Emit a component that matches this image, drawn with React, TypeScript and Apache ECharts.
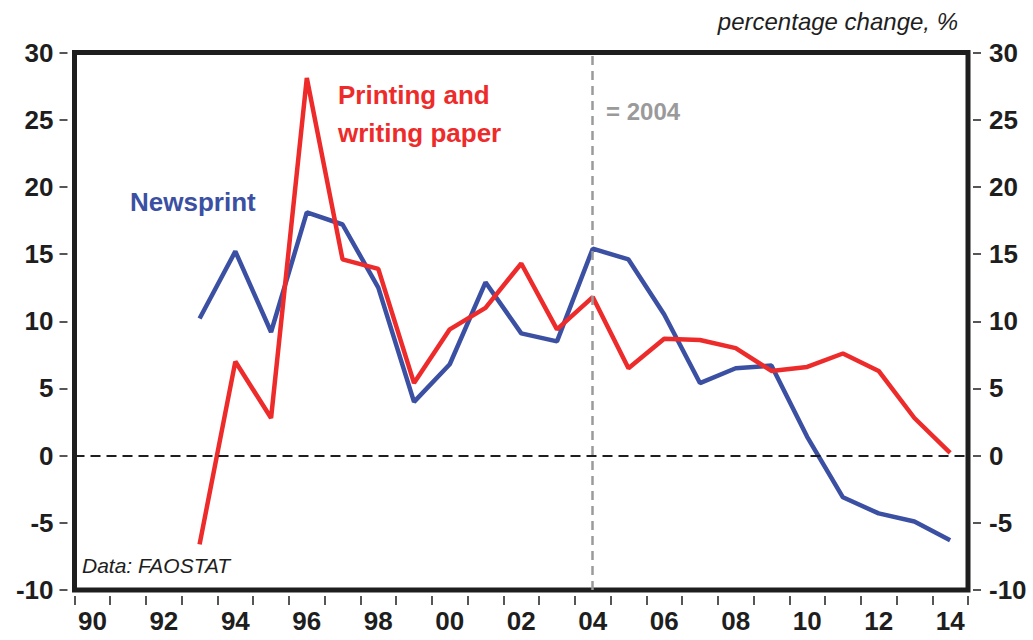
import React, { useEffect, useRef } from "react";
import * as echarts from "echarts";

const years = ["90","91","92","93","94","95","96","97","98","99","00","01","02","03","04","05","06","07","08","09","10","11","12","13","14"];
const newsprint = [null,null,null,10.2,15.2,9.2,18.1,17.2,12.5,4.0,6.8,12.9,9.1,8.5,15.4,14.6,10.5,5.4,6.5,6.7,1.4,-3.1,-4.3,-4.9,-6.3];
const printing = [null,null,null,-6.6,7.0,2.8,28.1,14.6,13.9,5.4,9.4,11.0,14.3,9.4,11.8,6.5,8.7,8.6,8.0,6.3,6.6,7.6,6.3,2.8,0.2];
const markYear = "04";

const FONT = "'Liberation Sans', Arial, Helvetica, sans-serif";
const BLUE = "#3b50a3";
const RED = "#ee2b2b";
const DARK = "#1e1e1e";

export default function App() {
  const ref = useRef<HTMLDivElement>(null);
  useEffect(() => {
    const chart = echarts.init(ref.current!, null, { renderer: "svg" });
    const yAxisBase = {
      type: "value" as const,
      min: -10,
      max: 30,
      interval: 5,
      axisLine: { show: false, onZero: false },
      axisTick: { show: true, length: 8, lineStyle: { color: DARK, width: 1.5 } },
      axisLabel: {
        color: DARK,
        fontSize: 26,
        fontWeight: "bold" as const,
        fontFamily: FONT,
        padding: [0, 0, 8, 0],
      },
      splitLine: { show: false },
    };
    chart.setOption({
      animation: false,
      backgroundColor: "#ffffff",
      grid: {
        left: 74.5,
        right: 65,
        top: 52.5,
        bottom: 50,
        show: true,
        borderColor: DARK,
        borderWidth: 5,
        backgroundColor: "transparent",
      },
      xAxis: {
        type: "category",
        data: years,
        boundaryGap: true,
        offset: 6,
        axisLine: { show: false, onZero: false },
        axisTick: { show: true, interval: 0, length: 9, lineStyle: { color: DARK, width: 1.5 } },
        axisLabel: {
          interval: 1,
          color: DARK,
          fontSize: 26,
          fontWeight: "bold",
          fontFamily: FONT,
          margin: 12,
        },
        splitLine: { show: false },
      },
      yAxis: [
        { ...yAxisBase, position: "left", offset: 7, axisLabel: { ...yAxisBase.axisLabel, margin: 14 } },
        { ...yAxisBase, position: "right", offset: 5, axisLabel: { ...yAxisBase.axisLabel, margin: 16 } },
      ],
      series: [
        {
          name: "Newsprint",
          type: "line",
          data: newsprint,
          symbol: "none",
          lineStyle: { color: BLUE, width: 4.5 },
          z: 3,
          markLine: {
            silent: true,
            symbol: "none",
            label: { show: false },
            data: [
              { yAxis: 0, lineStyle: { color: DARK, type: [10, 6], width: 2 } },
              { xAxis: markYear, lineStyle: { color: "#9a9a9a", type: [9, 6], width: 2.5 } },
            ],
          },
        },
        {
          name: "Printing and writing paper",
          type: "line",
          data: printing,
          symbol: "none",
          lineStyle: { color: RED, width: 4.5 },
          z: 4,
        },
      ],
      graphic: [
        {
          type: "text",
          right: 75,
          top: 9,
          style: { text: "percentage change, %", fill: DARK, font: `italic 24px ${FONT}` },
        },
        {
          type: "text",
          left: 130,
          top: 189,
          style: { text: "Newsprint", fill: BLUE, font: `bold 26px ${FONT}` },
        },
        {
          type: "text",
          left: 338,
          top: 76,
          style: { text: "Printing and\nwriting paper", fill: RED, font: `bold 26px ${FONT}`, lineHeight: 38 },
        },
        {
          type: "text",
          left: 606,
          top: 99,
          style: { text: "= 2004", fill: "#9a9a9a", font: `bold 24px ${FONT}` },
        },
        {
          type: "text",
          left: 82,
          top: 555,
          style: { text: "Data: FAOSTAT", fill: DARK, font: `italic 21px ${FONT}` },
        },
      ],
    });
    return () => chart.dispose();
  }, []);
  return (
    <div
      ref={ref}
      style={{ position: "fixed", left: 0, top: 0, width: 1033, height: 640, background: "#fff" }}
    />
  );
}
